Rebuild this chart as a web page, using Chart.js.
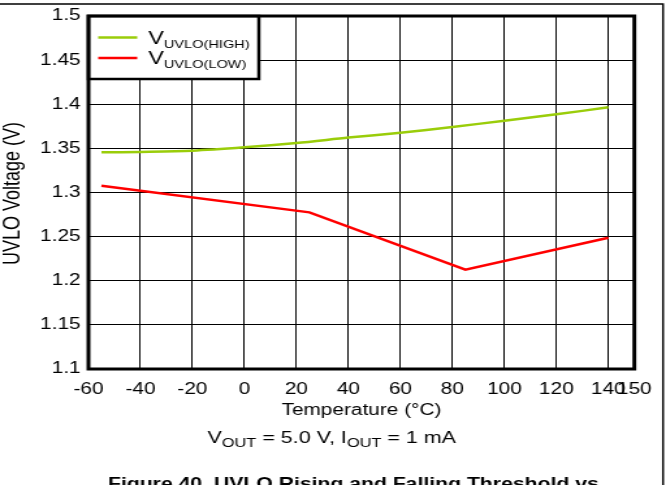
<!DOCTYPE html>
<html>
<head>
<meta charset="utf-8">
<script src="https://cdn.jsdelivr.net/npm/chart.js@4/dist/chart.umd.min.js"></script>
<style>
    html, body { margin: 0; padding: 0; background: #fff; overflow: hidden; }
    /* the figure is stretched horizontally, so draw it narrower and scale it out */
    #wrap { width: 512px; height: 485px; transform: scaleX(1.30078); transform-origin: 0 0; }
</style>
</head>
<body>
<div id="wrap"><canvas id="chart" width="512" height="485"></canvas></div>
<script>
const tempsHigh = [-55, -40, -20, 0, 20, 40, 60, 80, 100, 120, 140];
const uvloHigh = [1.3455, 1.346, 1.3474, 1.3512, 1.3561, 1.3622, 1.3678, 1.3742, 1.3814, 1.3886, 1.3965];
const tempsLow = [-55, 25, 85, 140];
const uvloLow = [1.3077, 1.2775, 1.2125, 1.2488];
const xTicks = [-60, -40, -20, 0, 20, 40, 60, 80, 100, 120, 140, 150];
const seriesSub = ['UVLO(HIGH)', 'UVLO(LOW)'];
const seriesColors = ['#9acd0a', '#ff0000'];

const FONT = '"Liberation Sans", Arial, sans-serif';

function toPoints(xs, ys) {
    return xs.map((x, i) => ({ x: x, y: ys[i] }));
}

// text with subscripts: parts = [[text, isSub], ...]
function drawParts(ctx, parts, x, y, size, subSize, align) {
    const widthOf = p => {
        ctx.font = (p[1] ? subSize : size) + 'px ' + FONT;
        return ctx.measureText(p[0]).width;
    };
    const total = parts.reduce((s, p) => s + widthOf(p), 0);
    let cx = align === 'center' ? x - total / 2 : x;
    ctx.textAlign = 'left';
    ctx.textBaseline = 'alphabetic';
    parts.forEach(p => {
        const w = widthOf(p);
        ctx.fillText(p[0], cx, p[1] ? y + 4 : y);
        cx += w;
    });
}

const decorations = {
    id: 'decorations',
    afterDatasetsDraw(chart) {
        const ctx = chart.ctx;
        const a = chart.chartArea;
        // legend box
        ctx.save();
        ctx.fillStyle = '#fff';
        ctx.fillRect(a.left, a.top, 131, 63);
        ctx.strokeStyle = '#000';
        ctx.lineWidth = 2.5;
        ctx.strokeRect(a.left, a.top, 131, 63);
        chart.data.datasets.forEach((ds, i) => {
            const y = a.top + 21.5 + i * 20.5;
            ctx.strokeStyle = ds.borderColor;
            ctx.lineWidth = 2.5;
            ctx.beginPath();
            ctx.moveTo(a.left + 7.5, y);
            ctx.lineTo(a.left + 37.5, y);
            ctx.stroke();
            ctx.fillStyle = '#000';
            drawParts(ctx, [['V', false], [seriesSub[i], true]], a.left + 46, y + 6, 18, 11.2, 'left');
        });
        ctx.restore();
    },
    afterDraw(chart) {
        const ctx = chart.ctx;
        const a = chart.chartArea;
        ctx.save();
        // plot frame
        ctx.strokeStyle = '#000';
        ctx.lineWidth = 3;
        ctx.strokeRect(a.left, a.top, a.right - a.left, a.bottom - a.top);
        // page frame
        ctx.lineWidth = 1.5;
        ctx.beginPath();
        ctx.moveTo(0, 4);
        ctx.lineTo(509.7, 4);
        ctx.lineTo(509.7, 485);
        ctx.stroke();

        ctx.fillStyle = '#000';
        const mid = (a.left + a.right) / 2;
        ctx.font = '16px ' + FONT;
        ctx.textAlign = 'center';
        ctx.textBaseline = 'alphabetic';
        ctx.fillText('Temperature (\u00B0C)', mid, 415);
        drawParts(ctx, [['V', false], ['OUT', true], [' = 5.0 V, I', false], ['OUT', true], [' = 1 mA', false]],
            255, 443, 16.5, 12.6, 'center');

        ctx.font = 'bold 16.3px ' + FONT;
        ctx.textAlign = 'left';
        ctx.fillText('Figure 40. UVLO Rising and Falling Threshold vs', 83, 489);

        ctx.translate(10.5, (a.top + a.bottom) / 2 + 1);
        ctx.rotate(-Math.PI / 2);
        ctx.font = '18px ' + FONT;
        ctx.textAlign = 'center';
        ctx.textBaseline = 'middle';
        ctx.fillText('UVLO Voltage (V)', 0, 0);
        ctx.restore();
    }
};

new Chart(document.getElementById('chart'), {
    type: 'line',
    data: {
        datasets: [{
            label: 'V UVLO(HIGH)',
            data: toPoints(tempsHigh, uvloHigh),
            borderColor: seriesColors[0],
            borderWidth: 2.5,
            pointRadius: 0,
            tension: 0.3,
            fill: false
        }, {
            label: 'V UVLO(LOW)',
            data: toPoints(tempsLow, uvloLow),
            borderColor: seriesColors[1],
            borderWidth: 2.5,
            pointRadius: 0,
            tension: 0,
            fill: false
        }]
    },
    options: {
        responsive: false,
        animation: false,
        devicePixelRatio: 1,
        layout: { padding: { top: 16, right: 21, left: 0, bottom: 0 } },
        plugins: { legend: { display: false }, tooltip: { enabled: false } },
        scales: {
            x: {
                type: 'linear',
                min: -60,
                max: 150,
                afterBuildTicks: s => { s.ticks = xTicks.map(v => ({ value: v })); },
                afterFit: s => { s.height = 116; },
                border: { display: false },
                grid: { color: '#000', lineWidth: 1, drawTicks: false },
                ticks: {
                    autoSkip: false,
                    maxRotation: 0,
                    padding: 11,
                    color: '#000',
                    font: { family: FONT, size: 16 }
                }
            },
            y: {
                min: 1.1,
                max: 1.5,
                afterFit: s => { s.width = 68; },
                border: { display: false },
                grid: { color: '#000', lineWidth: 1, drawTicks: false },
                ticks: {
                    stepSize: 0.05,
                    padding: 6,
                    color: '#000',
                    font: { family: FONT, size: 16 },
                    callback: v => String(+v.toFixed(2))
                }
            }
        }
    },
    plugins: [decorations]
});
</script>
</body>
</html>
